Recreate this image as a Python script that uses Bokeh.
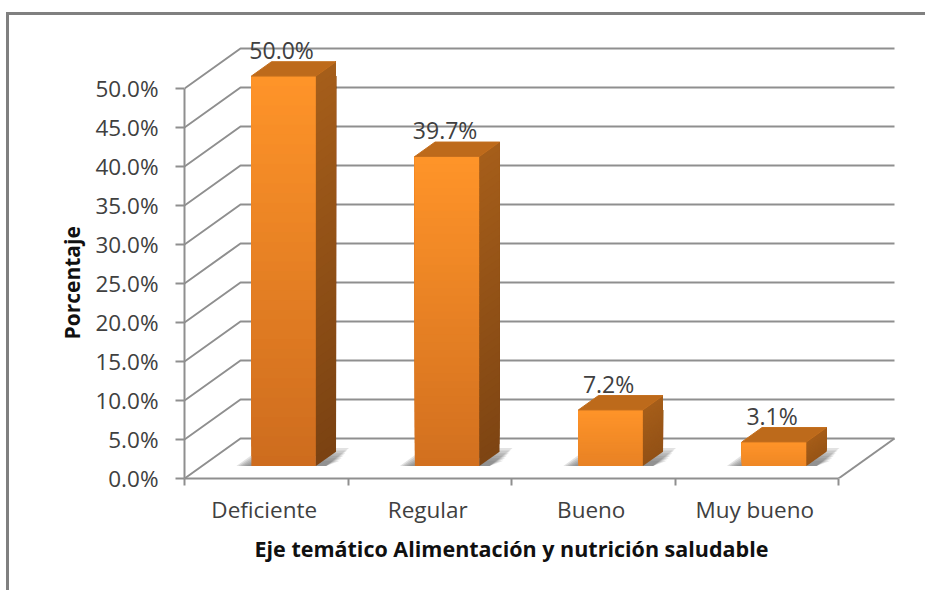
from bokeh.plotting import figure
from bokeh.models import Range1d, FixedTicker, Title
from bokeh.core.properties import value
from bokeh.embed import file_html
from bokeh.resources import INLINE

categories = ["Deficiente", "Regular", "Bueno", "Muy bueno"]
percentages = [50.0, 39.7, 7.2, 3.1]
y_ticks = [0, 5, 10, 15, 20, 25, 30, 35, 40, 45, 50]
x_title = "Eje temático Alimentación y nutrición saludable"
y_title = "Porcentaje"

FONT = "Open Sans"
TEXT = "#404040"
GRID = "#8f8f8f"
W, H = 919, 578
LEFT, BOTTOM = 175, 115
PX_X, PX_Y = 163.5, 7.8           # pixels per category / per percent
DX, DY = 56 / PX_X, 40 / PX_Y     # depth of the floor
BAR_W = 64.5 / PX_X
F0, F1 = 0.31, 0.67               # bar front / back position in the depth


def mix(a, b, t):
    return "#%02x%02x%02x" % tuple(round(a[i] + (b[i] - a[i]) * t) for i in range(3))


p = figure(width=W, height=H, output_backend="svg", toolbar_location=None,
           x_range=Range1d(0, (W - LEFT) / PX_X),
           y_range=Range1d(0, (H - BOTTOM) / PX_Y),
           min_border_left=LEFT, min_border_bottom=BOTTOM, min_border_top=0, min_border_right=0,
           outline_line_color=None, background_fill_color="white", border_fill_color="white")
p.grid.visible = False
p.styles = {"border-left": "3px solid #808080", "border-top": "3px solid #808080",
            "margin-left": "6px", "margin-top": "12px", "box-sizing": "border-box"}

n = len(categories)

# walls and floor
for t in y_ticks:
    p.line([0, DX, n + DX], [t, t + DY, t + DY], line_color=GRID, line_width=2)
p.line([n + DX, n], [DY, 0], line_color=GRID, line_width=2)

# axes
ax = p.yaxis[0]
ax.ticker = FixedTicker(ticks=y_ticks)
ax.major_label_overrides = {t: f"{t:.1f}%" for t in y_ticks}
ax.bounds = (0, 50)
ax.major_label_text_font = FONT
ax.major_label_text_font_size = "22.5px"
ax.major_label_text_color = TEXT
ax.major_label_standoff = 17
ax.axis_line_color = GRID
ax.axis_line_width = 2
ax.major_tick_line_color = GRID
ax.major_tick_line_width = 2
ax.major_tick_in = 0
ax.major_tick_out = 9
ax.minor_tick_line_color = None

bx = p.xaxis[0]
centers = [i + 0.5 - 2 / PX_X for i in range(n)]
bx.ticker = FixedTicker(ticks=centers, minor_ticks=list(range(n + 1)))
bx.major_label_overrides = {c: categories[i] for i, c in enumerate(centers)}
bx.bounds = (0, n)
bx.major_label_text_font = FONT
bx.major_label_text_font_size = "22.5px"
bx.major_label_text_color = TEXT
bx.major_label_standoff = 8
bx.axis_line_color = GRID
bx.axis_line_width = 2
bx.major_tick_line_color = None
bx.major_tick_in = 0
bx.major_tick_out = 0
bx.minor_tick_line_color = GRID
bx.minor_tick_line_width = 2
bx.minor_tick_in = 0
bx.minor_tick_out = 7

# axis titles: centred on the front plane, not on the whole frame
p.add_layout(Title(text=x_title, align="left", offset=70, standoff=9, text_font=FONT,
                   text_font_style="bold", text_font_size="21.5px", text_color="#101010"), "below")
p.add_layout(Title(text=y_title, align="left", offset=139, standoff=14, text_font=FONT,
                   text_font_style="bold", text_font_size="21px", text_color="#101010"), "left")

# bars
BANDS = 40
for i, v in enumerate(percentages):
    x0 = i + 0.5 - BAR_W / 2 + F0 * DX
    x1 = x0 + BAR_W
    y0 = F0 * DY
    sx = (F1 - F0) * DX
    sy = (F1 - F0) * DY

    # floor shadow, soft through layers
    for k in range(6):
        g = 1 - k * 0.14
        p.patch([x0 - 15 * g / PX_X, x0 + 10 / PX_X, x1 + sx + 13 * g / PX_X, x1 + sx - 10 / PX_X],
                [y0, y0 + 18 / PX_Y * g, y0 + 18 / PX_Y * g, y0],
                fill_color="#707070", fill_alpha=0.2, line_color=None)

    dark = min(1.0, (v / 50) ** 0.4)
    for b in range(BANDS):
        lo = v * b / BANDS
        t = 1 - (b + 0.5) / BANDS
        front = mix((255, 148, 41), (205, 108, 30), t * dark)
        side = mix((166, 94, 26), (122, 66, 18), t * dark)
        p.quad(left=[x0], right=[x1], bottom=[y0 + lo], top=[y0 + v], fill_color=front, line_color=None)
        p.patch([x1, x1 + sx, x1 + sx, x1],
                [y0 + lo, y0 + lo + sy, y0 + v + sy, y0 + v], fill_color=side, line_color=None)
    # top face
    p.patch([x0, x0 + sx, x1 + sx, x1],
            [y0 + v, y0 + v + sy, y0 + v + sy, y0 + v],
            fill_color="#bd6a1b", line_color="#c46f1e", line_width=1)
    # value label
    p.text([x0 + BAR_W / 2 - 2 / PX_X], [y0 + v + sy + 12 / PX_Y], text=[f"{v:.1f}%"],
           text_font=value(FONT), text_font_size="23px", text_color=TEXT,
           text_align="center", text_baseline="alphabetic")

open("out.html", "w").write(file_html(p, INLINE))
